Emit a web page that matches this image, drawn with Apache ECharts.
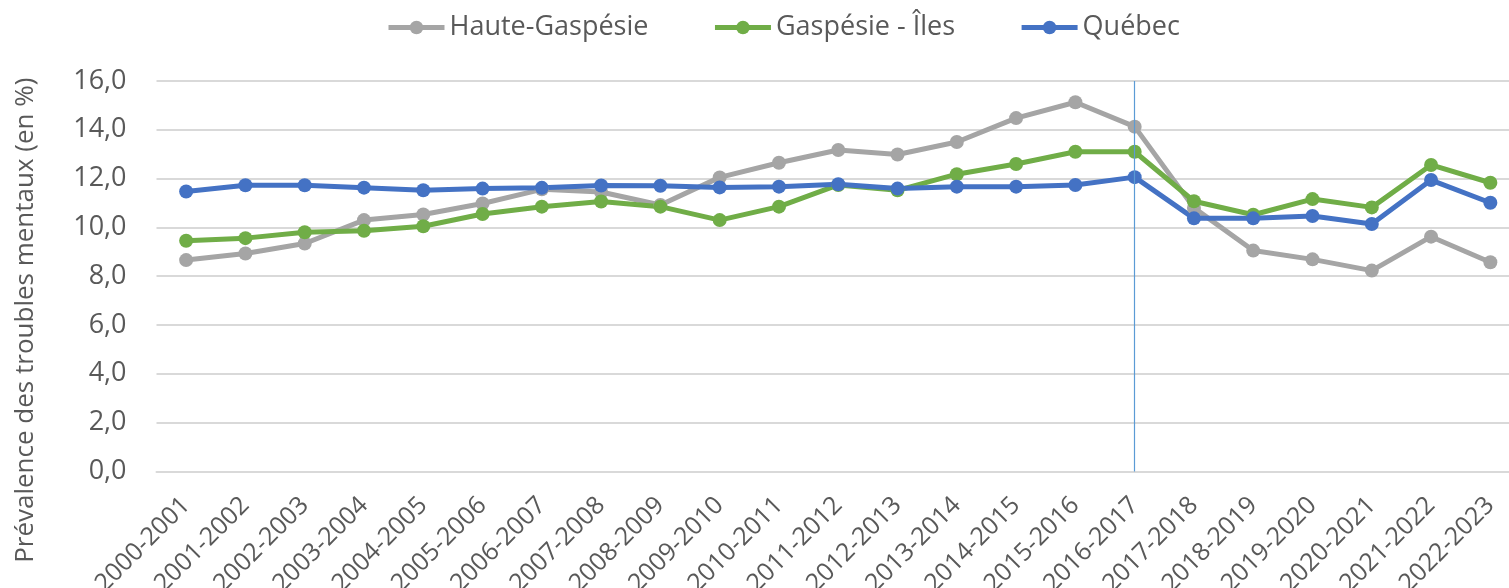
<!DOCTYPE html>
<html>
<head>
<meta charset="utf-8">
<script src="https://cdn.jsdelivr.net/npm/echarts@6/dist/echarts.min.js"></script>
<style>
  html, body { margin: 0; padding: 0; background: #fff; overflow: hidden; }
  /* the original chart is cropped on the right, so the canvas is a bit wider than the window */
  #chart { width: 1520px; height: 588px; }
</style>
</head>
<body>
<div id="chart"></div>
<script>
// years on the x axis
const periods = [
  '2000-2001', '2001-2002', '2002-2003', '2003-2004', '2004-2005', '2005-2006',
  '2006-2007', '2007-2008', '2008-2009', '2009-2010', '2010-2011', '2011-2012',
  '2012-2013', '2013-2014', '2014-2015', '2015-2016', '2016-2017', '2017-2018',
  '2018-2019', '2019-2020', '2020-2021', '2021-2022', '2022-2023'
]

const hauteGaspesie = [
  8.66, 8.93, 9.34, 10.30, 10.53, 10.98, 11.56, 11.45, 10.92, 12.05, 12.65, 13.17,
  12.99, 13.50, 14.48, 15.13, 14.13, 10.80, 9.05, 8.69, 8.23, 9.62, 8.57
]
const gaspesieIles = [
  9.45, 9.56, 9.80, 9.86, 10.05, 10.55, 10.85, 11.06, 10.85, 10.30, 10.85, 11.74,
  11.52, 12.18, 12.60, 13.10, 13.10, 11.07, 10.52, 11.16, 10.82, 12.56, 11.83
]
const quebec = [
  11.47, 11.73, 11.73, 11.63, 11.52, 11.59, 11.62, 11.72, 11.71, 11.64, 11.67, 11.77,
  11.59, 11.67, 11.67, 11.74, 12.06, 10.37, 10.37, 10.47, 10.14, 11.94, 11.01
]

const markerPeriod = '2016-2017'
const yTicks = { min: 0, max: 16, interval: 2 }

const colors = ['#A5A5A5', '#70AD47', '#4472C4']
const font = '"Open Sans", "Noto Sans", sans-serif'

const chart = echarts.init(document.getElementById('chart'))

function lineSeries(name, data, color) {
  return {
    name: name,
    type: 'line',
    data: data,
    symbol: 'circle',
    symbolSize: 14,
    lineStyle: { width: 5, color: color },
    itemStyle: { color: color },
    emphasis: { disabled: true },
    animation: false
  }
}

const series = [
  lineSeries('Haute-Gaspésie', hauteGaspesie, colors[0]),
  lineSeries('Gaspésie - Îles', gaspesieIles, colors[1]),
  lineSeries('Québec', quebec, colors[2])
]

// thin vertical line at 2016-2017
series[2].markLine = {
  silent: true,
  symbol: ['none', 'none'],
  label: { show: false },
  emphasis: { disabled: true },
  lineStyle: { color: '#5B9BD5', width: 1.2, type: 'solid', opacity: 1 },
  data: [{ xAxis: markerPeriod, lineStyle: { color: '#5B9BD5' } }]
}

chart.setOption({
  backgroundColor: '#fff',
  textStyle: { fontFamily: font },
  legend: {
    left: 381,
    top: 9,
    itemWidth: 56,
    itemHeight: 17,
    itemGap: 64,
    lineStyle: { width: 5 },
    textStyle: { fontSize: 27, color: '#595959', fontFamily: font },
    data: ['Haute-Gaspésie', 'Gaspésie - Îles', 'Québec']
  },
  grid: {
    left: 156.5,
    right: 0,
    top: 81,
    bottom: 116.6,
    containLabel: false,
    outerBoundsMode: 'none'
  },
  xAxis: {
    type: 'category',
    data: periods,
    boundaryGap: true,
    axisLine: { show: true, lineStyle: { color: '#D9D9D9', width: 2 } },
    axisTick: { show: false },
    axisLabel: {
      interval: 0,
      rotate: 45,
      margin: 30,
      fontSize: 25,
      color: '#595959',
      fontFamily: font
    }
  },
  yAxis: {
    type: 'value',
    min: yTicks.min,
    max: yTicks.max,
    interval: yTicks.interval,
    name: 'Prévalence des troubles mentaux (en %)',
    nameLocation: 'middle',
    nameGap: 118,
    nameTextStyle: {
      fontSize: 26,
      color: '#595959',
      fontFamily: font,
      padding: [0, 88, 0, 0]
    },
    axisLine: { show: false },
    axisTick: { show: false },
    splitLine: { lineStyle: { color: '#D9D9D9', width: 2 } },
    axisLabel: {
      margin: 30,
      fontSize: 27,
      color: '#595959',
      fontFamily: font,
      formatter: v => v.toFixed(1).replace('.', ',')
    }
  },
  series: series
})
</script>
</body>
</html>
